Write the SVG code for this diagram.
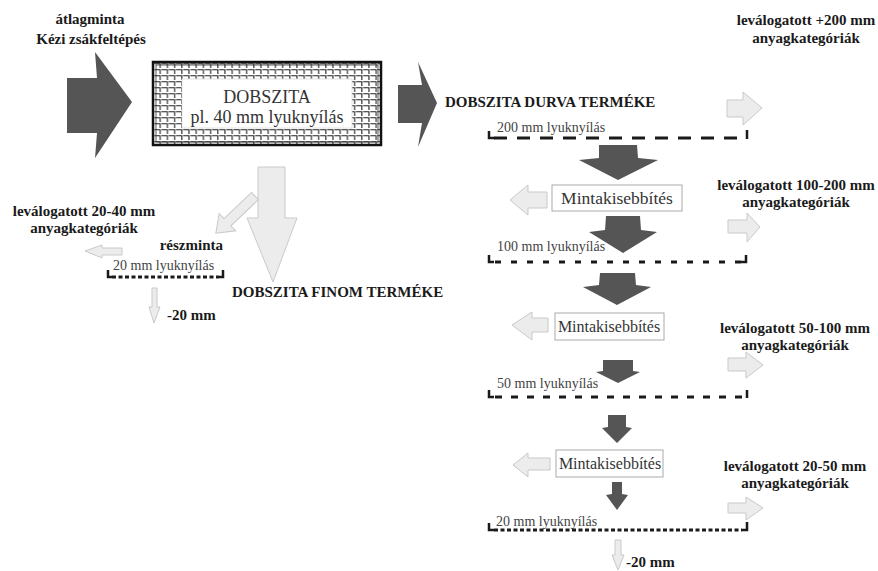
<svg xmlns="http://www.w3.org/2000/svg" width="878" height="571" viewBox="0 0 878 571">
<style>
.bold{font-family:"Liberation Serif","Times New Roman",serif;font-weight:bold;font-size:15px;fill:#1a1a1a}
.reg{font-family:"Liberation Serif","Times New Roman",serif;font-size:14px;fill:#444}
.box{font-family:"Liberation Serif","Times New Roman",serif;fill:#333}
.dark{fill:#555;stroke:none}
.light{fill:#ececec;stroke:#c9c9c9;stroke-width:1}
.sieve{fill:none;stroke:#1a1a1a;stroke-width:3}
.tick{fill:none;stroke:#1a1a1a;stroke-width:2.5}
.mbox{fill:#fff;stroke:#aaa;stroke-width:1}
</style>
<defs>
<pattern id="mesh" width="7.2" height="6" patternUnits="userSpaceOnUse" x="154" y="63">
<rect width="7.2" height="6" fill="#fff"/>
<path d="M0.3,0.8 H6.2 V5" fill="none" stroke="#222" stroke-width="1.1"/>
</pattern>
</defs>
<rect width="878" height="571" fill="#fff"/>

<g id="input-label">
<text class="bold" x="90" y="24" text-anchor="middle">átlagminta</text>
<text class="bold" x="91" y="44" text-anchor="middle">Kézi zsákfeltépés</text>
</g>

<g id="dobszita">
<rect x="153" y="62" width="228" height="83" fill="url(#mesh)" stroke="#111" stroke-width="2.5"/>
<rect x="156" y="65" width="222" height="77" fill="none" stroke="#333" stroke-width="0.8"/>
<rect x="182" y="79" width="170" height="49" fill="#fff" stroke="#ddd" stroke-width="0.8"/>
<text class="box" x="267" y="103" font-size="18" text-anchor="middle">DOBSZITA</text>
<text class="box" x="267" y="123" font-size="18" text-anchor="middle">pl. 40 mm lyuknyílás</text>
</g>

<g id="durva-label">
<text class="bold" x="445" y="107">DOBSZITA DURVA TERMÉKE</text>
</g>
<g id="label-200">
<text class="bold" x="806" y="25" text-anchor="middle">leválogatott +200 mm</text>
<text class="bold" x="806" y="43" text-anchor="middle">anyagkategóriák</text>
</g>
<g id="sieve-200">
<text class="reg" x="497" y="132">200 mm lyuknyílás</text>
<path class="sieve" d="M494,138 H747" stroke-dasharray="13 10"/>
<path class="tick" d="M489,131 V138 H495 M747,130 V139"/>
</g>

<g id="mk1">
<rect class="mbox" x="552" y="185" width="130" height="26"/>
<text class="box" x="617" y="204" font-size="17.5" text-anchor="middle">Mintakisebbítés</text>
</g>
<g id="label-100-200">
<text class="bold" x="796" y="190" text-anchor="middle">leválogatott 100-200 mm</text>
<text class="bold" x="796" y="207" text-anchor="middle">anyagkategóriák</text>
</g>
<g id="sieve-100">
<text class="reg" x="497" y="251">100 mm lyuknyílás</text>
<path class="sieve" d="M495,262 H745" stroke-dasharray="6 10"/>
<path class="tick" d="M489,255 V262 H494 M746,255 V262 H741"/>
</g>

<g id="mk2">
<rect class="mbox" x="555" y="313" width="109" height="27"/>
<text class="box" x="609" y="332" font-size="16" text-anchor="middle">Mintakisebbítés</text>
</g>
<g id="label-50-100">
<text class="bold" x="795" y="333" text-anchor="middle">leválogatott 50-100 mm</text>
<text class="bold" x="795" y="350" text-anchor="middle">anyagkategóriák</text>
</g>
<g id="sieve-50">
<text class="reg" x="497" y="388">50 mm lyuknyílás</text>
<path class="sieve" d="M495,397 H742" stroke-dasharray="7 9"/>
<path class="tick" d="M489,390 V397 H494 M747,390 V398"/>
</g>

<g id="mk3">
<rect class="mbox" x="556" y="450" width="107" height="27"/>
<text class="box" x="610" y="469" font-size="16" text-anchor="middle">Mintakisebbítés</text>
</g>
<g id="label-20-50">
<text class="bold" x="795" y="471" text-anchor="middle">leválogatott 20-50 mm</text>
<text class="bold" x="795" y="488" text-anchor="middle">anyagkategóriák</text>
</g>
<g id="sieve-20">
<text class="reg" x="496" y="526">20 mm lyuknyílás</text>
<path class="sieve" d="M494,530 H742" stroke-dasharray="4 2.5" stroke-width="2.5"/>
<path class="tick" d="M489,523 V530 H494 M747,522 V530 H742"/>
</g>
<g id="minus20-right">
<text class="bold" x="626" y="567">-20 mm</text>
</g>

<g id="finom-label">
<text class="bold" x="232" y="297">DOBSZITA FINOM TERMÉKE</text>
</g>
<g id="reszminta">
<text class="bold" x="223" y="250" text-anchor="end">részminta</text>
</g>
<g id="label-20-40">
<text class="bold" x="84" y="216" text-anchor="middle">leválogatott 20-40 mm</text>
<text class="bold" x="84" y="233" text-anchor="middle">anyagkategóriák</text>
</g>
<g id="sieve-20-left">
<text class="reg" x="113" y="270">20 mm lyuknyílás</text>
<path class="sieve" d="M112,277 H219" stroke-dasharray="4 2.5" stroke-width="2.5"/>
<path class="tick" d="M108,270 V277 H112 M223,270 V277 H219"/>
</g>
<g id="minus20-left">
<text class="bold" x="167" y="320">-20 mm</text>
</g>

<g id="connectors">
<path class="dark" d="M67,78 H97 L95,52 L132,102 L95,158 L97,133 H67 Z"/>
<path class="dark" d="M398,85 H422 L418,62 L437,103 L418,147 L422,123 H398 Z"/>
<path class="light" d="M727,100 H743 V92 L762,108 L743,125 V117 H727 Z"/>
<path class="dark" d="M599,145 H637 L638,158 L658,160 L618,180 L579,160 L599,158 Z"/>
<path class="light" d="M547,192 H528 V185 L510,200 L528,215 V208 H547 Z"/>
<path class="dark" d="M606,216 H640 L641,230 L657,232 L623,253 L589,232 L605,230 Z"/>
<path class="light" d="M728,220 H747 V213 L760,227 L747,242 V233 H728 Z"/>
<path class="dark" d="M600,273 H635 L636,285 L651,287 L617,305 L583,287 L599,285 Z"/>
<path class="light" d="M548,318 H532 V312 L512,325 L532,340 V332 H548 Z"/>
<path class="dark" d="M603,360 H633 V371 L640,372 L618,383 L596,372 L603,371 Z"/>
<path class="light" d="M728,358 H746 V352 L763,365 L746,378 V371 H728 Z"/>
<path class="dark" d="M608,415 H626 V427 L632,428 L617,443 L602,428 L608,427 Z"/>
<path class="light" d="M550,458 H528 V453 L513,465 L528,477 V470 H550 Z"/>
<path class="dark" d="M612,482 H622 V494 L628,495 L617,510 L606,495 L612,494 Z"/>
<path class="light" d="M728,503 H746 V497 L763,508 L746,520 V513 H728 Z"/>
<path class="light" d="M615,540 H621 V555 L624,555 L618,570 L612,555 L615,555 Z"/>
<path class="light" d="M258,167 H285 V218 L297,218 L273,282 L247,218 L258,218 Z"/>
<path class="light" transform="translate(255,196) rotate(136.5)" d="M0,-5 H38 V-12 L54,0 L38,12 V5 H0 Z"/>
<path class="light" d="M122,248 H102 V245 L85,251 L102,258 V255 H122 Z"/>
<path class="light" d="M152,288 H157 V307 L160,307 L154,323 L149,307 L152,307 Z"/>
</g>
</svg>
